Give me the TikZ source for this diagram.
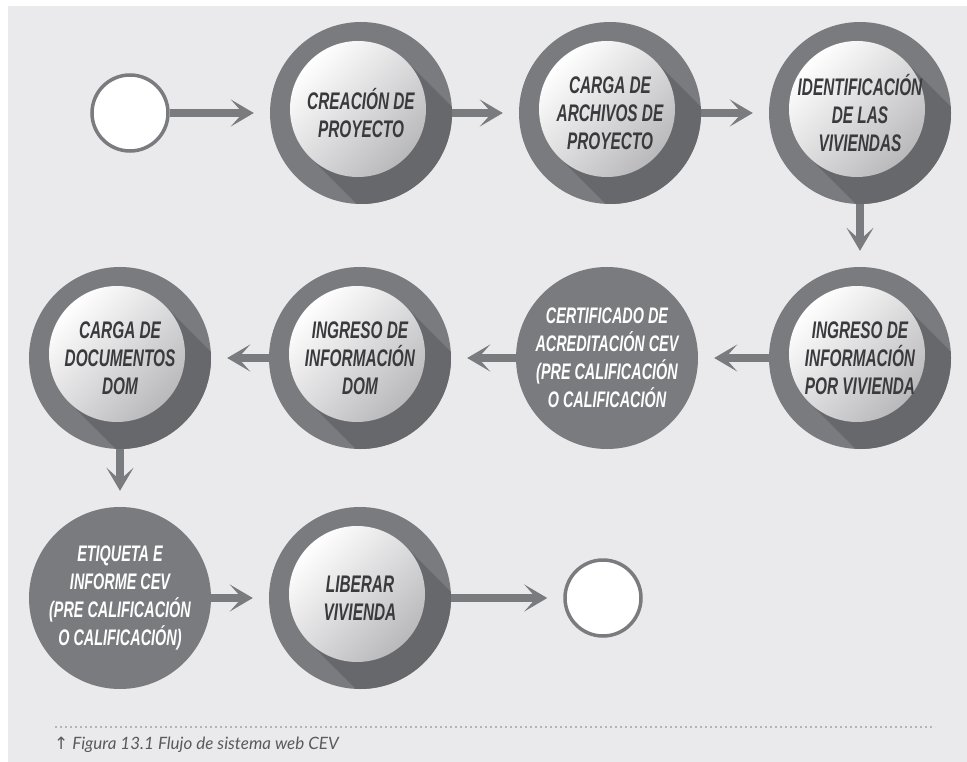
\documentclass[tikz,border=0pt]{standalone}
\usepackage{fontspec}
\usepackage{tikz}
\usetikzlibrary{arrows.meta,calc,backgrounds}
\newfontfamily\cevfont[FakeStretch=0.64]{Liberation Sans}
\newfontfamily\capfont{Lato}
\newfontfamily\symfont{DejaVu Sans}
\definecolor{cevback}{HTML}{EAEAEC}
\definecolor{cevgrey}{HTML}{7A7B7F}
\definecolor{cevshadow}{HTML}{67686C}
\definecolor{cevlight}{HTML}{B9B9BC}
\definecolor{cevtext}{HTML}{3A3A3D}
\definecolor{cevdots}{HTML}{B4B4B8}
\definecolor{cevcap}{HTML}{5A5A5E}
\newcommand{\stepfont}[0]{\cevfont\bfseries\itshape\fontsize{24}{28}\selectfont}
\newcommand{\darkfont}[0]{\cevfont\bfseries\itshape\fontsize{22.5}{28}\selectfont}
\newcommand{\ringdeco}[1]{%
  \fill[cevgrey] (#1) circle (91pt);
  \begin{scope}
    \clip (#1) circle (91pt);
    \fill[cevshadow] ($(#1)+(-3,-4)+(135:68)$) -- ($(#1)+(-3,-4)+(-45:68)$)
      -- ++(45:260) -- ++(135:136) -- cycle;
  \end{scope}
  \shade[top color=white, bottom color=cevlight, shading angle=45]
    ($(#1)+(-3,-4)$) circle (68pt);
}

\begin{document}
\begin{tikzpicture}[x=1pt, y=-1pt]
  \tikzset{
    stepring/.style={circle, minimum size=182pt, inner sep=0pt,
      text=cevtext, font=\stepfont, align=center},
    stepdark/.style={circle, minimum size=182pt, inner sep=0pt, fill=cevgrey,
      text=white, font=\darkfont, align=center},
    endpoint/.style={circle, minimum size=76pt, inner sep=0pt, draw=cevgrey,
      line width=3.5pt, fill=white},
    flow/.style={draw=cevgrey, line width=8pt,
      -{Stealth[length=23pt, width=27pt, inset=12pt]}, shorten >=16pt}
  }
  \useasboundingbox (0,0) rectangle (967,762);

  \node[endpoint] (inicio) at (130,113) {};
  \node[stepring] (creacion) at (361,113) {CREACIÓN DE\\PROYECTO};
  \node[stepring] (carga) at (610,113) {CARGA DE\\ARCHIVOS DE\\PROYECTO};
  \node[stepring] (identif) at (860,113) {IDENTIFICACIÓN\\DE LAS\\VIVIENDAS};
  \node[stepring] (ingviv) at (860,358) {INGRESO DE\\INFORMACIÓN\\POR VIVIENDA};
  \node[stepdark] (certif) at (607,358) {CERTIFICADO DE\\ACREDITACIÓN CEV\\(PRE CALIFICACIÓN\\O CALIFICACIÓN};
  \node[stepring] (ingdom) at (360,358) {INGRESO DE\\INFORMACIÓN\\DOM};
  \node[stepring] (cargadoc) at (120,358) {CARGA DE\\DOCUMENTOS\\DOM};
  \node[stepdark] (etiqueta) at (120,598) {ETIQUETA E\\INFORME CEV\\(PRE CALIFICACIÓN\\O CALIFICACIÓN)};
  \node[stepring] (liberar) at (360,598) {LIBERAR\\VIVIENDA};
  \node[endpoint] (fin) at (603,598) {};

  \begin{pgfonlayer}{background}
    \fill[cevback] (8,6) rectangle (967,762);
    \foreach \s in {creacion,carga,identif,ingviv,ingdom,cargadoc,liberar}
      {\ringdeco{\s}}
  \end{pgfonlayer}

  \draw[flow] (inicio) -- (creacion);
  \draw[flow] (creacion) -- (carga);
  \draw[flow] (carga) -- (identif);
  \draw[flow] (identif) -- (ingviv);
  \draw[flow] (ingviv) -- (certif);
  \draw[flow] (certif) -- (ingdom);
  \draw[flow] (ingdom) -- (cargadoc);
  \draw[flow] (cargadoc) -- (etiqueta);
  \draw[flow] (etiqueta) -- (liberar);
  \draw[flow] (liberar) -- (fin);

  \coordinate (lineL) at (55,727);
  \coordinate (lineR) at (935,727);
  \draw[cevdots, line width=2pt, dash pattern=on 2pt off 3pt] (lineL) -- (lineR);
  \node[anchor=west, inner sep=0pt, text=cevcap, font=\capfont\itshape\fontsize{17}{20}\selectfont]
    (caption) at (54,745) {{\symfont\fontsize{17}{20}\selectfont ↑} Figura 13.1 Flujo de sistema web CEV};
\end{tikzpicture}
\end{document}
